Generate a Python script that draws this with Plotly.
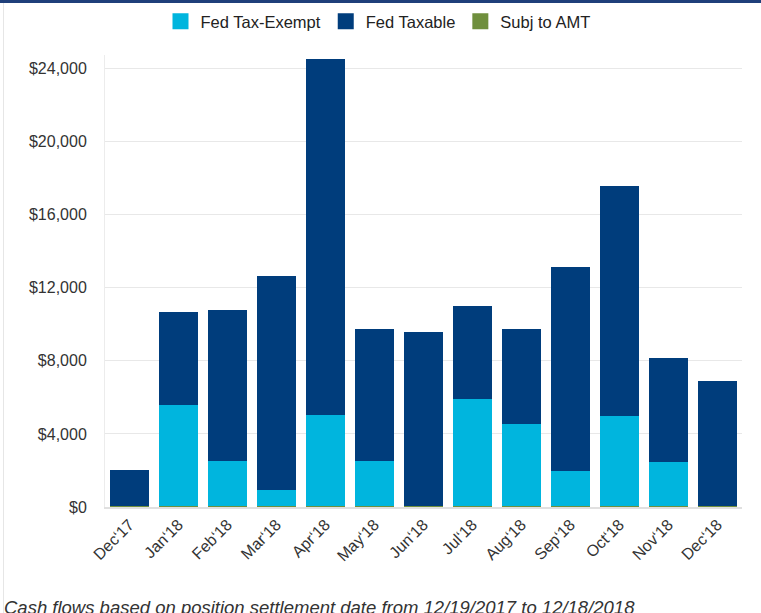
import plotly.graph_objects as go

categories = ["Dec‘17", "Jan‘18", "Feb‘18", "Mar‘18", "Apr‘18", "May‘18", "Jun‘18",
              "Jul‘18", "Aug‘18", "Sep‘18", "Oct‘18", "Nov‘18", "Dec‘18"]
fed_tax_exempt = [0, 5540, 2480, 890, 4990, 2480, 0, 5870, 4500, 1930, 4940, 2430, 0]
fed_taxable = [1990, 5090, 8260, 11710, 19480, 7220, 9530, 5090, 5200, 11170, 12580, 5680, 6850]
subj_to_amt = [40, 40, 40, 40, 40, 40, 40, 40, 40, 40, 40, 40, 40]
y_tick_vals = [0, 4000, 8000, 12000, 16000, 20000, 24000]
y_tick_text = ["$0", "$4,000", "$8,000", "$12,000", "$16,000", "$20,000", "$24,000"]
caption = "Cash flows based on position settlement date from 12/19/2017 to 12/18/2018"

C_EXEMPT = "#00b5de"
C_TAXABLE = "#003d7c"
C_AMT = "#6f8f3d"

W, H = 761, 613
L, R, T, B = 105, 19, 55, 106
pw, ph = W - L - R, H - T - B

fig = go.Figure()
fig.add_trace(go.Bar(x=categories, y=subj_to_amt, name="Subj to AMT",
                     marker=dict(color=C_AMT, line=dict(width=0)), showlegend=False))
fig.add_trace(go.Bar(x=categories, y=fed_tax_exempt, name="Fed Tax-Exempt",
                     marker=dict(color=C_EXEMPT, line=dict(width=0)), showlegend=False))
fig.add_trace(go.Bar(x=categories, y=fed_taxable, name="Fed Taxable",
                     marker=dict(color=C_TAXABLE, line=dict(width=0)), showlegend=False))

# legend proxies
for nm, col in [("Fed Tax-Exempt", C_EXEMPT), ("Fed Taxable", C_TAXABLE), ("Subj to AMT", C_AMT)]:
    fig.add_trace(go.Scatter(x=[None], y=[None], mode="markers", name=nm,
                             marker=dict(symbol="square", size=16, color=col)))

font = "Liberation Sans, Arial, sans-serif"
fig.update_layout(
    width=W, height=H,
    margin=dict(l=L, r=R, t=T, b=B, autoexpand=False),
    barmode="stack", bargap=0.2,
    plot_bgcolor="white", paper_bgcolor="white",
    font=dict(family=font, size=16, color="#333333"),
    legend=dict(orientation="h", x=(378 - L) / pw, xanchor="center", y=1 + (T - 4) / ph, yanchor="top",
                font=dict(size=16.5, color="#222222"), itemclick=False, traceorder="normal"),
    xaxis=dict(tickangle=-45, showgrid=False, showline=True, linecolor="#e0e0e0", linewidth=2,
               tickfont=dict(size=16, color="#333333"), ticks=""),
    yaxis=dict(range=[0, 24740], tickvals=y_tick_vals, ticktext=y_tick_text,
               showgrid=True, gridcolor="#e8e8e8", gridwidth=1, zeroline=False,
               showline=True, linecolor="#ececec", linewidth=1, ticks="",
               ticklabelstandoff=14, tickfont=dict(size=16, color="#333333")),
    shapes=[
        dict(type="rect", xref="paper", yref="paper", x0=-L / pw, x1=1 + R / pw,
             y0=1 + (T - 3) / ph, y1=1 + T / ph, fillcolor="#1f3f7a", line=dict(width=0), layer="above"),
        dict(type="line", xref="paper", yref="paper", x0=(3.5 - L) / pw, x1=(3.5 - L) / pw,
             y0=1 + (T - 3) / ph, y1=-B / ph, line=dict(color="#e6e6e6", width=1)),
    ],
    annotations=[dict(text="<i>" + caption + "</i>", xref="paper", yref="paper",
                      x=(2 - L) / pw, y=-(607 - T - ph) / ph, xanchor="left", yanchor="middle",
                      showarrow=False, font=dict(size=18.5, color="#333333", family=font))],
)

fig.write_html("out.html", config={"displayModeBar": False},
               post_script="document.body.style.margin='0';")
